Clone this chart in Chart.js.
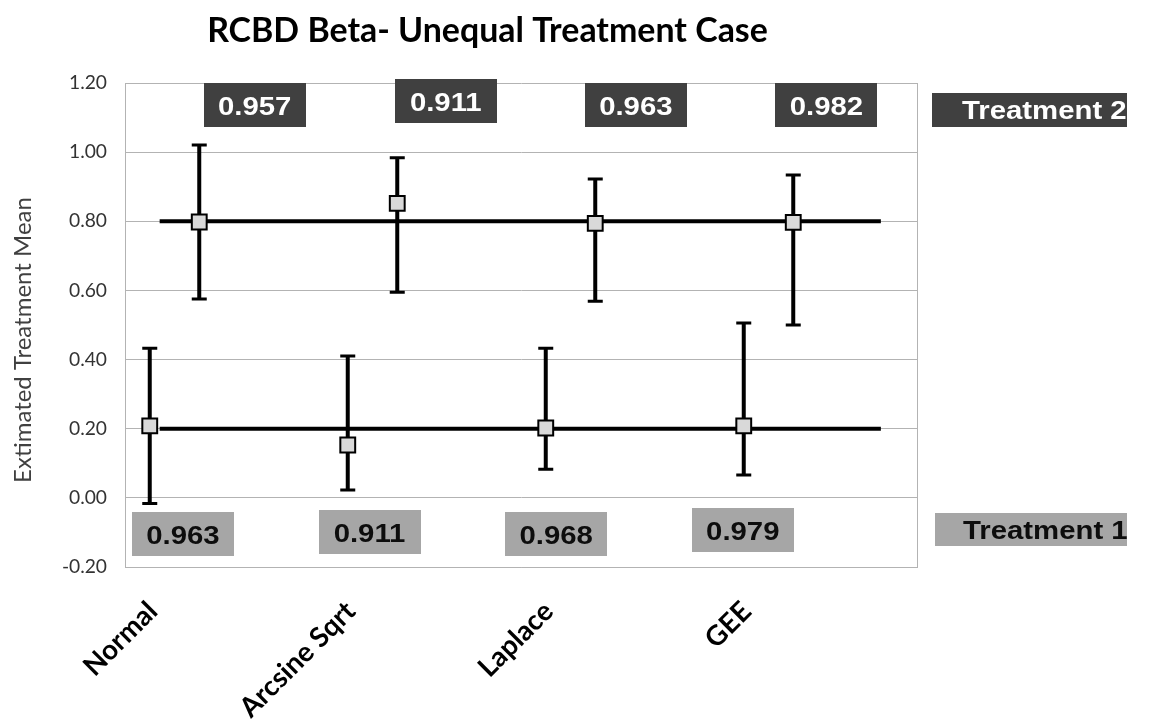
<!DOCTYPE html>
<html>
<head>
<meta charset="utf-8">
<script src="https://cdn.jsdelivr.net/npm/chart.js@4.4.1/dist/chart.umd.min.js"></script>
<style>
html,body{margin:0;padding:0;background:#fff;}
#wrap{width:1151px;height:719px;position:relative;}
</style>
</head>
<body>
<div id="wrap"><canvas id="c" width="1151" height="719"></canvas></div>
<script>
// ---------------- data ----------------
const categories = ['Normal', 'Arcsine Sqrt', 'Laplace', 'GEE'];
const t1X = [0.5, 4.5, 8.5, 12.5];
const t2X = [1.5, 5.5, 9.5, 13.5];
const t1Mean = [0.208, 0.153, 0.202, 0.208];
const t1Low  = [-0.016, 0.023, 0.083, 0.066];
const t1High = [0.433, 0.410, 0.433, 0.506];
const t2Mean = [0.798, 0.852, 0.794, 0.797];
const t2Low  = [0.575, 0.595, 0.569, 0.500];
const t2High = [1.021, 0.984, 0.922, 0.934];
const t1Labels = ['0.963', '0.911', '0.968', '0.979'];
const t2Labels = ['0.957', '0.911', '0.963', '0.982'];
const trueT1 = 0.20;
const trueT2 = 0.80;
const refLineX = [0.7, 15.27];
const yTicks = [-0.2, 0, 0.2, 0.4, 0.6, 0.8, 1.0, 1.2];
const seriesNames = ['Treatment 1', 'Treatment 2'];
const titleText = 'RCBD Beta- Unequal Treatment Case';
const yTitleText = 'Extimated Treatment Mean';

// ---------------- placement (annotation layout, data units) ----------------
const place = {
  t2BoxX: [2.62, 6.48, 10.32, 14.17], t2BoxY: [1.136, 1.148, 1.136, 1.136],
  t1BoxX: [1.17, 4.94, 8.71, 12.48], t1BoxY: [-0.105, -0.099, -0.105, -0.094],
  legT2Y: 1.122, legT1Y: -0.0916, labelShift: 0.06, yTitleY: 0.88
};

// ---------------- font fitting ----------------
const mctx = document.createElement('canvas').getContext('2d');
function fitSize(text, weight, family, target) {
  mctx.font = weight + ' 100px ' + family;
  return 100 * target / mctx.measureText(text).width;
}
const FAM = 'Lato, "Open Sans", sans-serif';
const titleSize = fitSize(titleText, 'bold', FAM, 561);
const yTitleSize = fitSize(yTitleText, 'normal', FAM, 286);
const tickSize = fitSize('1.20', 'normal', FAM, 38);
const xLabSize = fitSize('Arcsine Sqrt', 'bold', FAM, 150);
const BOXFONT = '"Liberation Sans", Arial, sans-serif';
const boxFontSize = 25.5;
const STRETCH = 1.15;

function stretchedText(ctx, text, x, y, align, color) {
  ctx.save();
  ctx.font = 'bold ' + boxFontSize + 'px ' + BOXFONT;
  ctx.fillStyle = color;
  ctx.textBaseline = 'alphabetic';
  const w = ctx.measureText(text).width * STRETCH;
  let left = align === 'center' ? x - w / 2 : x;
  ctx.translate(left, y);
  ctx.scale(STRETCH, 1);
  ctx.textAlign = 'left';
  ctx.fillText(text, 0, 0);
  ctx.restore();
}

const decor = {
  id: 'decor',
  beforeDatasetsDraw(chart) {
    const ctx = chart.ctx, xs = chart.scales.x, ys = chart.scales.y;
    const a = chart.chartArea;
    ctx.save();
    ctx.strokeStyle = '#b3b3b3';
    ctx.lineWidth = 1;
    ctx.beginPath();
    ctx.moveTo(Math.round(a.right) + 0.5, a.top);
    ctx.lineTo(Math.round(a.right) + 0.5, a.bottom);
    ctx.stroke();
    ctx.strokeStyle = '#000';
    const groups = [[t1X, t1Low, t1High], [t2X, t2Low, t2High]];
    groups.forEach(([xArr, lo, hi]) => {
      xArr.forEach((xv, i) => {
        const px = xs.getPixelForValue(xv);
        const pl = ys.getPixelForValue(lo[i]);
        const ph = ys.getPixelForValue(hi[i]);
        ctx.lineWidth = 4;
        ctx.beginPath();
        ctx.moveTo(px, pl); ctx.lineTo(px, ph); ctx.stroke();
        ctx.lineWidth = 3;
        ctx.beginPath();
        ctx.moveTo(px - 7.5, pl); ctx.lineTo(px + 7.5, pl);
        ctx.moveTo(px - 7.5, ph); ctx.lineTo(px + 7.5, ph);
        ctx.stroke();
      });
    });
    ctx.restore();
  },
  afterDraw(chart) {
    const ctx = chart.ctx, xs = chart.scales.x, ys = chart.scales.y;
    const capH = boxFontSize * 0.716;
    function valBox(cx, cy, bg, txt, col) {
      const w = 102, h = 44;
      ctx.fillStyle = bg;
      ctx.fillRect(Math.round(cx - w / 2), Math.round(cy - h / 2), w, h);
      stretchedText(ctx, txt, cx, cy + capH / 2 + 1, 'center', col);
    }
    ctx.save();
    t2Labels.forEach((t, i) => valBox(xs.getPixelForValue(place.t2BoxX[i]), ys.getPixelForValue(place.t2BoxY[i]), '#404040', t, '#ffffff'));
    t1Labels.forEach((t, i) => valBox(xs.getPixelForValue(place.t1BoxX[i]), ys.getPixelForValue(place.t1BoxY[i]), '#a6a6a6', t, '#0d0d0d'));
    const l2y = ys.getPixelForValue(place.legT2Y);
    ctx.fillStyle = '#404040';
    ctx.fillRect(932, Math.round(l2y - 17), 195, 34);
    stretchedText(ctx, seriesNames[1], 962, l2y + capH / 2, 'left', '#ffffff');
    const l1y = ys.getPixelForValue(place.legT1Y);
    ctx.fillStyle = '#a6a6a6';
    ctx.fillRect(935, Math.round(l1y - 16.5), 192, 33);
    stretchedText(ctx, seriesNames[0], 963, l1y + capH / 2, 'left', '#0d0d0d');
    // title
    ctx.font = 'bold ' + titleSize + 'px ' + FAM;
    ctx.fillStyle = '#000';
    ctx.textAlign = 'center';
    ctx.textBaseline = 'middle';
    ctx.fillText(titleText, 487.5, 31);
    // y axis title
    ctx.save();
    ctx.translate(23, ys.getPixelForValue(place.yTitleY) > 0 ? 340 : 340);
    ctx.rotate(-Math.PI / 2);
    ctx.font = 'normal ' + yTitleSize + 'px ' + FAM;
    ctx.fillStyle = '#404040';
    ctx.textAlign = 'center';
    ctx.textBaseline = 'middle';
    ctx.fillText(yTitleText, 0, 0);
    ctx.restore();
    ctx.restore();
  }
};

new Chart(document.getElementById('c'), {
  type: 'scatter',
  data: {
    datasets: [
      { type: 'line', label: 'true T1', data: refLineX.map(x => ({ x, y: trueT1 })), borderColor: '#000', borderWidth: 4, pointRadius: 0, order: 2 },
      { type: 'line', label: 'true T2', data: refLineX.map(x => ({ x, y: trueT2 })), borderColor: '#000', borderWidth: 4, pointRadius: 0, order: 2 },
      { label: seriesNames[0], data: t1X.map((x, i) => ({ x, y: t1Mean[i] })), pointStyle: 'rect', pointRadius: 10.5, backgroundColor: '#d9d9d9', borderColor: '#000', borderWidth: 2, order: 0 },
      { label: seriesNames[1], data: t2X.map((x, i) => ({ x, y: t2Mean[i] })), pointStyle: 'rect', pointRadius: 10.5, backgroundColor: '#d9d9d9', borderColor: '#000', borderWidth: 2, order: 0 }
    ]
  },
  options: {
    responsive: false,
    animation: false,
    events: [],
    layout: { padding: { top: 83, right: 234, left: 0, bottom: 0 } },
    plugins: { legend: { display: false }, tooltip: { enabled: false }, title: { display: false } },
    scales: {
      x: {
        type: 'linear', min: 0, max: 16,
        afterBuildTicks: s => { s.ticks = categories.map((c, i) => ({ value: t1X[i] + place.labelShift })); },
        ticks: {
          autoSkip: false, maxRotation: 45, minRotation: 45, padding: 28, color: '#000',
          font: { family: FAM, weight: 'bold', size: xLabSize },
          callback: (v, i) => categories[i]
        },
        grid: { display: false, drawTicks: false },
        border: { display: true, color: '#b3b3b3' },
        afterFit: s => { s.height = 152; }
      },
      y: {
        min: -0.2, max: 1.2,
        afterBuildTicks: s => { s.ticks = yTicks.map(v => ({ value: v })); },
        ticks: { callback: v => Number(v).toFixed(2), padding: 18, color: '#333333', font: { family: FAM, size: tickSize } },
        grid: { color: '#b3b3b3', lineWidth: 1, drawTicks: false },
        border: { display: true, color: '#b3b3b3' },
        title: { display: false },
        afterFit: s => { s.width = 125; }
      }
    }
  },
  plugins: [decor]
});
</script>
</body>
</html>
